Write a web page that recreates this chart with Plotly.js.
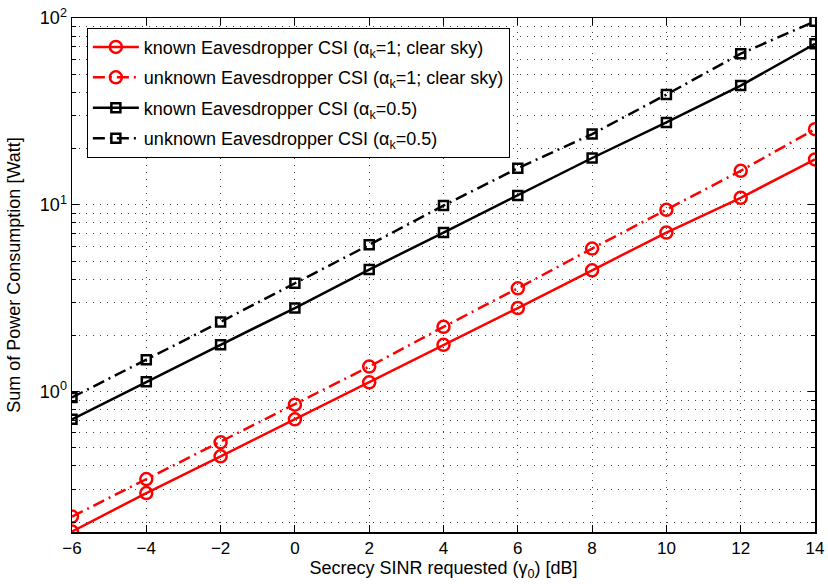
<!DOCTYPE html>
<html>
<head>
<meta charset="utf-8">
<script src="https://cdn.plot.ly/plotly-3.0.1.min.js"></script>
<style>html,body{margin:0;padding:0;background:#fff;}#chart{width:828px;height:584px;}</style>
</head>
<body>
<div id="chart"></div>
<script>
const sinrDb = [-6, -4, -2, 0, 2, 4, 6, 8, 10, 12, 14];
const knownClear = [0.178, 0.286, 0.45, 0.71, 1.12, 1.78, 2.8, 4.46, 7.1, 10.9, 17.5];
const unknownClear = [0.214, 0.34, 0.535, 0.85, 1.36, 2.22, 3.57, 5.83, 9.4, 15.2, 25.4];
const knownHalf = [0.71, 1.13, 1.78, 2.8, 4.5, 7.1, 11.2, 17.8, 27.6, 43.5, 72.7];
const unknownHalf = [0.93, 1.48, 2.36, 3.8, 6.1, 9.9, 15.7, 23.9, 38.9, 64.4, 96];
const seriesNames = [
  'known Eavesdropper CSI (α<sub>k</sub>=1; clear sky)',
  'unknown Eavesdropper CSI (α<sub>k</sub>=1; clear sky)',
  'known Eavesdropper CSI (α<sub>k</sub>=0.5)',
  'unknown Eavesdropper CSI (α<sub>k</sub>=0.5)'
];
const xTicks = [-6, -4, -2, 0, 2, 4, 6, 8, 10, 12, 14];
const yMajorVals = [1, 10, 100];
const yMajorText = ['10<sup>0</sup>', '10<sup>1</sup>', '10<sup>2</sup>'];
const yMinorVals = [0.2,0.3,0.4,0.5,0.6,0.7,0.8,0.9,2,3,4,5,6,7,8,9,20,30,40,50,60,70,80,90];

const red = '#ff0000', black = '#000000';
const dashDot = '12px,5px,2px,5px';
function tr(y, name, color, dash, symbol, msize, grp) {
  return {
    x: sinrDb, y: y, name: name, type: 'scatter', mode: 'lines+markers', legendgroup: grp,
    line: {color: color, width: 2.5, dash: dash},
    marker: {symbol: symbol, size: msize, color: color, line: {color: color, width: 2.5}}
  };
}
const data = [
  tr(knownClear, seriesNames[0], red, 'solid', 'circle-open', 12, 'g1'),
  tr(unknownClear, seriesNames[1], red, dashDot, 'circle-open', 12, 'g2'),
  tr(knownHalf, seriesNames[2], black, 'solid', 'square-open', 9, 'g3'),
  tr(unknownHalf, seriesNames[3], black, dashDot, 'square-open', 9, 'g4')
];
const fam = 'Liberation Sans, Arial, sans-serif';
const gridDash = '1px,6px';
const gridColor = '#444';
const layout = {
  width: 828, height: 584,
  margin: {l: 72, r: 13, t: 18, b: 52, pad: 0},
  paper_bgcolor: '#fff', plot_bgcolor: '#fff',
  font: {family: fam, size: 17, color: '#000'},
  showlegend: true,
  legend: {
    x: 0.02, y: 0.981, xanchor: 'left', yanchor: 'top',
    bgcolor: '#fff', bordercolor: '#000', borderwidth: 1,
    traceorder: 'grouped', tracegroupgap: 4, itemwidth: 46,
    font: {family: fam, size: 18, color: '#000'}
  },
  xaxis: {
    range: [-6, 14], tickvals: xTicks, ticktext: xTicks.map(v => v < 0 ? '\u2212' + Math.abs(v) : String(v)),
    showgrid: true, gridcolor: gridColor, griddash: gridDash, gridwidth: 1,
    ticks: 'inside', ticklen: 7, tickcolor: '#000', tickwidth: 1,
    showline: true, linecolor: '#000', linewidth: 1.5, mirror: 'ticks', zeroline: false,
    tickfont: {size: 17},
    title: {text: 'Secrecy SINR requested (γ<sub>0</sub>) [dB]', font: {size: 18}, standoff: 4}
  },
  yaxis: {
    type: 'log', range: [Math.log10(0.177), 2],
    tickmode: 'array', tickvals: yMajorVals, ticktext: yMajorText,
    showgrid: true, gridcolor: gridColor, griddash: gridDash, gridwidth: 1,
    ticks: 'inside', ticklen: 7, tickcolor: '#000', tickwidth: 1,
    minor: {tickmode: 'array', tickvals: yMinorVals, ticks: 'inside', ticklen: 4, tickcolor: '#000',
            showgrid: true, gridcolor: gridColor, griddash: gridDash, gridwidth: 1},
    showline: true, linecolor: '#000', linewidth: 1.5, mirror: 'ticks', zeroline: false,
    tickfont: {size: 18},
    title: {text: 'Sum of Power Consumption [Watt]', font: {size: 18}, standoff: 14}
  }
};
Plotly.newPlot('chart', data, layout, {displayModeBar: false, staticPlot: true});
</script>
</body>
</html>
